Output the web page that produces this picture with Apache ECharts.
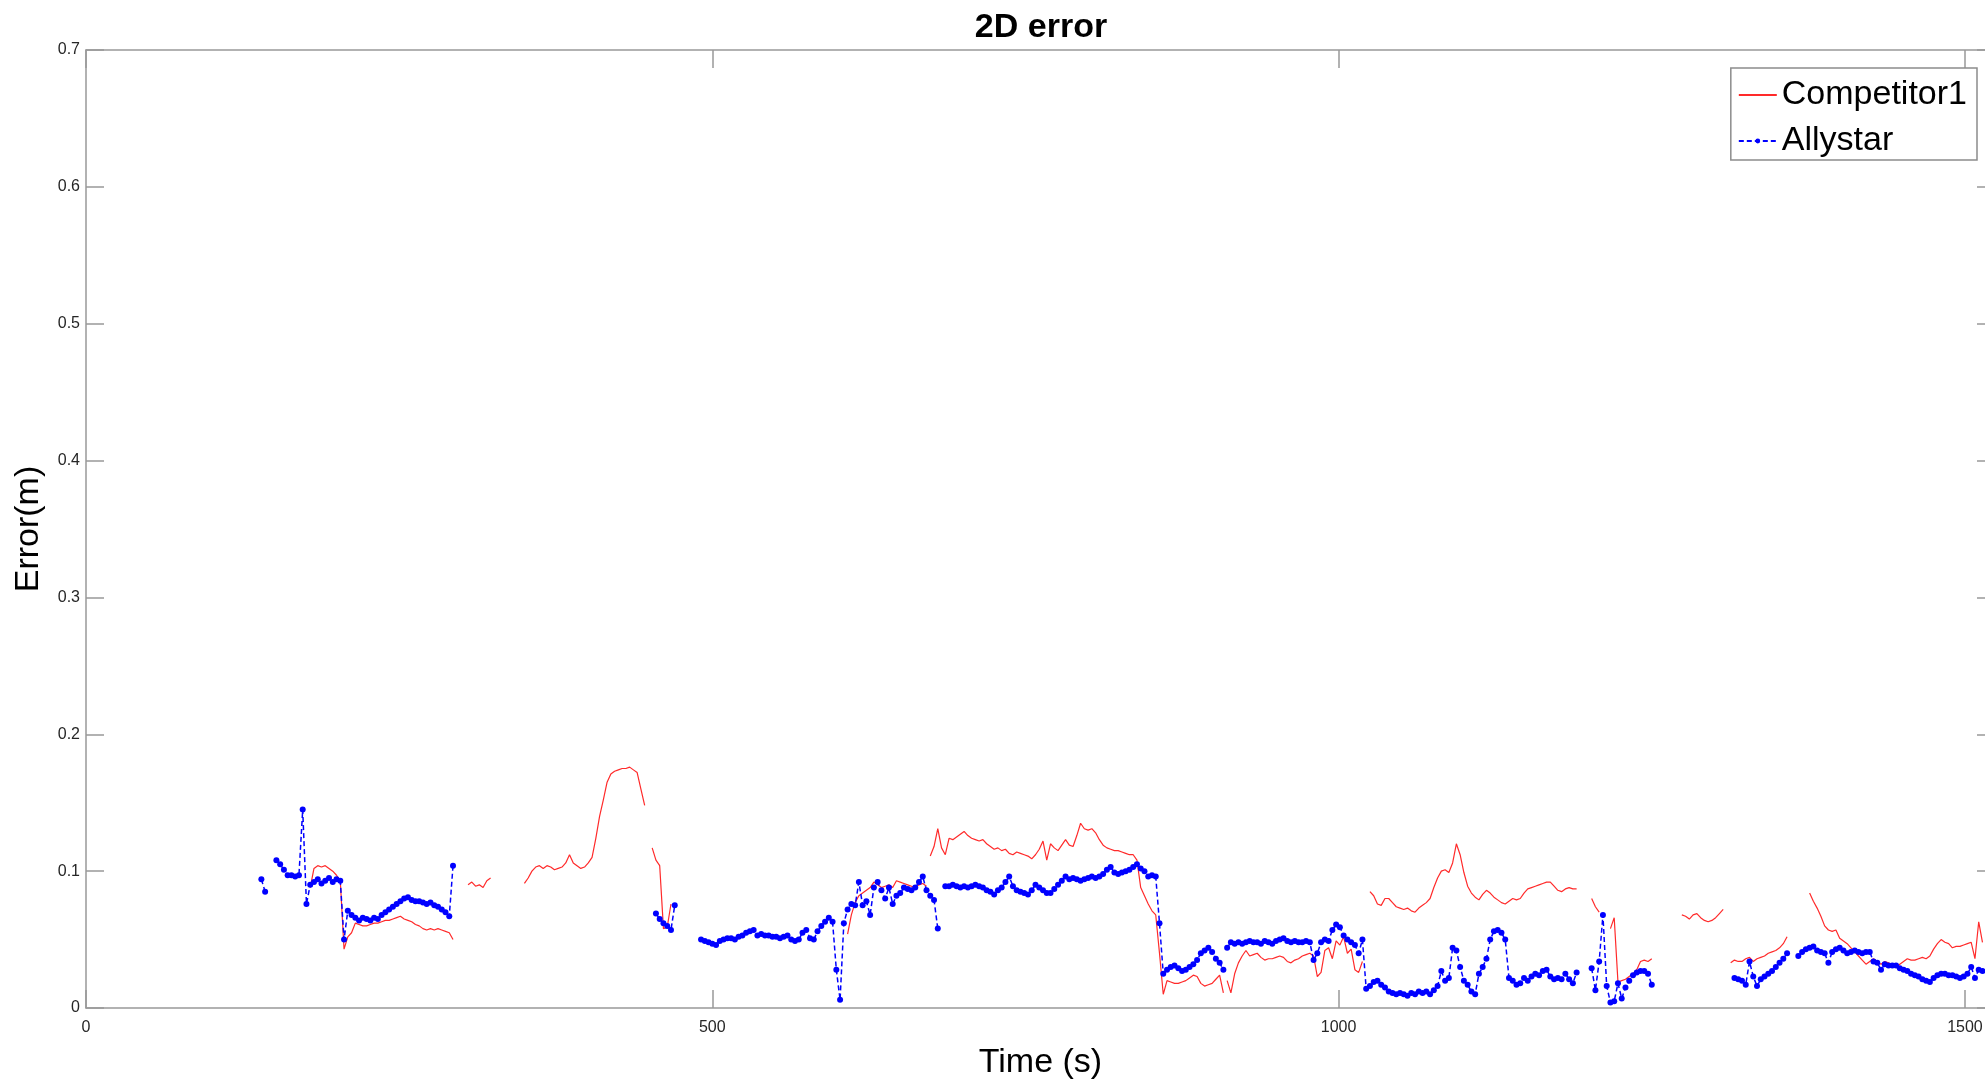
<!DOCTYPE html>
<html>
<head>
<meta charset="utf-8">
<script src="https://cdn.jsdelivr.net/npm/echarts@6/dist/echarts.min.js"></script>
<style>
html,body{margin:0;padding:0;background:#fff;}
#chart{width:1985px;height:1083px;}
</style>
</head>
<body>
<div id="chart"></div>
<script>
// ---- Data (errors in millimetres, sampled every 3 s inside each segment) ----
const sampleStep = 3;
const xTicks = [0, 500, 1000, 1500];
const yTicks = [0, 0.1, 0.2, 0.3, 0.4, 0.5, 0.6, 0.7];

// Competitor1 (red): start time of each continuous segment, and its values (mm)
const competitorStarts = [179, 305, 350, 452, 608, 674, 911, 1025, 1202, 1217, 1274, 1313, 1376];
const competitorSeg1 = [88,102,104,103,104,102,100,97,93,43,52,55,62,61,60,60,61,62,62,63,64,64,65,66,67,65,64,63,61,60,58,57,58,57,58,57,56,55,50];
const competitorSeg2 = [90,92,89,90,88,93,95];
const competitorSeg3 = [91,95,100,103,104,102,104,103,101,102,103,106,112,106,104,102,103,106,110,124,140,152,165,171,173,174,175,175,176,174,172,160,148];
const competitorSeg4 = [117,108,104,58,59,76];
const competitorSeg5 = [54,68,77,82,84,86,88,92,90,88,89,90,88,93,92,91,90,89,88,90,91,89];
const competitorSeg6 = [111,118,131,117,112,124,123,125,127,129,126,124,123,122,123,120,118,116,117,115,116,113,112,114,113,112,111,109,112,116,122,108,120,117,115,119,123,119,118,126,135,131,130,131,128,123,119,117,116,115,115,114,113,112,112,108,88,82,76,71,68,40,10,20,19,18,18,19,20,22,24,23,18,16,17,18,21,24,11];
const competitorSeg7 = [20,11,25,33,38,42,38,39,40,37,35,36,36,37,38,37,34,33,35,36,38,39,40,38,23,26,42,44,36,49,46,52,40,43,28,26,34];
const competitorSeg8 = [85,82,76,75,80,80,77,74,73,72,73,71,70,73,75,77,80,88,95,100,101,99,106,120,112,99,89,84,81,79,83,86,84,81,79,77,76,78,80,79,80,84,87,88,89,90,91,92,92,89,86,85,87,88,87,87];
const competitorSeg9 = [80,74,70];
const competitorSeg10 = [58,66,19,20,21,23,25,28,34,35,34,36];
const competitorSeg11 = [68,67,65,68,69,66,64,63,64,66,69,72];
const competitorSeg12 = [33,35,34,34,36,37,34,36,37,38,40,41,42,44,47,52];
const competitorSeg13 = [84,78,73,67,60,57,56,57,51,49,47,44,41,38,35,32,34,36,34,32,34,33,31,30,32,34,36,35,35,36,37,36,38,43,47,50,48,47,44,45,45,46,47,48,36,63,48];

// Allystar (blue)
const allystarStarts = [140, 152, 455, 491, 686, 911, 1202, 1316, 1367];
const allystarSeg1 = [94,85];
const allystarSeg2 = [108,105,101,97,97,96,97,145,76,90,92,94,91,93,95,92,94,93,50,71,68,66,64,66,65,64,66,65,68,70,72,74,76,78,80,81,79,78,78,77,76,77,75,74,72,70,67,104];
const allystarSeg3 = [69,65,62,60,57,75];
const allystarSeg4 = [50,49,48,47,46,49,50,51,51,50,52,53,55,56,57,53,54,53,53,52,52,51,52,53,50,49,50,55,57,51,50,56,60,63,66,63,28,6,62,72,76,75,92,75,78,68,88,92,86,80,88,76,82,84,88,87,86,88,92,96,86,82,79,58];
const allystarSeg5 = [89,89,90,89,88,89,88,89,90,89,88,86,85,83,86,88,92,96,89,86,85,84,83,86,90,88,86,84,84,87,90,93,96,94,95,94,93,94,95,96,95,96,98,101,103,99,98,99,100,101,103,105,102,100,96,97,96,62,25,28,30,31,29,27,28,30,32,35,40,42,44,41,36,33,28];
const allystarSeg6 = [44,48,47,48,47,48,49,48,48,47,49,48,47,49,50,51,49,48,49,48,48,49,48,35,40,48,50,49,57,61,59,53,50,48,46,40,50,14,16,19,20,17,15,12,11,10,11,10,9,11,10,12,11,12,10,13,16,27,20,22,44,42,30,20,17,12,10,25,30,36,50,56,57,55,50,22,20,17,18,22,20,23,25,24,27,28,23,21,22,21,25,21,18,26];
const allystarSeg7 = [29,13,34,68,16,4,5,18,7,15,20,24,26,27,27,25,17];
const allystarSeg8 = [22,21,20,17,34,23,16,21,23,25,27,30,33,36,40];
const allystarSeg9 = [38,41,43,44,45,42,41,40,33,41,43,44,42,40,41,42,41,40,41,41,34,33,28,32,31,31,31,29,28,27,25,24,23,21,20,19,22,24,25,25,24,24,23,22,23,25,30,22,28,27];

const competitorSegments = [competitorSeg1, competitorSeg2, competitorSeg3, competitorSeg4, competitorSeg5, competitorSeg6, competitorSeg7, competitorSeg8, competitorSeg9, competitorSeg10, competitorSeg11, competitorSeg12, competitorSeg13];
const allystarSegments = [allystarSeg1, allystarSeg2, allystarSeg3, allystarSeg4, allystarSeg5, allystarSeg6, allystarSeg7, allystarSeg8, allystarSeg9];

function buildPairs(starts, segments) {
  const out = [];
  segments.forEach(function (vals, k) {
    if (k > 0) out.push([starts[k] - 1, null]); // break between segments
    vals.forEach(function (mm, i) {
      out.push([starts[k] + i * sampleStep, mm / 1000]);
    });
  });
  return out;
}

const FONT = '"Liberation Sans", Arial, Helvetica, sans-serif';
const AXIS_COLOR = '#999999';
const LABEL_COLOR = '#262626';

const chart = echarts.init(document.getElementById('chart'), null, {renderer: 'canvas'});

const baseAxisLine = {show: true, onZero: false, lineStyle: {color: AXIS_COLOR, width: 1.5}};
const baseTick = {show: true, inside: true, length: 18, lineStyle: {color: AXIS_COLOR, width: 1.5}};

chart.setOption({
  animation: false,
  backgroundColor: '#ffffff',
  textStyle: {fontFamily: FONT},
  title: {
    text: '2D error',
    left: 1036, textAlign: 'center',
    top: 6,
    textStyle: {fontFamily: FONT, fontSize: 34, fontWeight: 'bold', color: '#000'}
  },
  legend: {
    orient: 'vertical',
    right: 8,
    top: 68,
    padding: [10, 10, 2, 7],
    itemGap: 12,
    itemWidth: 38,
    itemHeight: 6,
    borderColor: '#8c8c8c',
    borderWidth: 1.5,
    backgroundColor: '#ffffff',
    borderRadius: 0,
    textStyle: {fontFamily: FONT, fontSize: 34, color: '#000'},
    data: [
      {name: 'Competitor1', itemStyle: {color: 'rgba(0,0,0,0)', borderWidth: 0, opacity: 0}},
      {name: 'Allystar'}
    ]
  },
  grid: {
    left: 86, right: -10, top: 50, bottom: 75,
    containLabel: false,
    outerBoundsMode: 'none'
  },
  xAxis: [{
    type: 'value',
    min: 0, max: 1524, interval: 500,
    name: 'Time (s)',
    nameLocation: 'middle',
    nameGap: 38,
    nameTextStyle: {fontFamily: FONT, fontSize: 34, color: '#000'},
    axisLine: baseAxisLine,
    axisTick: baseTick,
    splitLine: {show: false},
    axisLabel: {
      fontFamily: FONT, fontSize: 16, color: LABEL_COLOR, margin: 12,
      formatter: function (v) { return xTicks.indexOf(v) >= 0 ? String(v) : ''; }
    }
  }, {
    type: 'value', position: 'top',
    min: 0, max: 1524, interval: 500,
    axisLine: baseAxisLine,
    axisTick: baseTick,
    axisLabel: {show: false},
    splitLine: {show: false}
  }],
  yAxis: [{
    type: 'value',
    min: 0, max: 0.7, interval: 0.1,
    name: 'Error(m)',
    nameLocation: 'middle',
    nameGap: 40,
    nameTextStyle: {fontFamily: FONT, fontSize: 34, color: '#000'},
    axisLine: baseAxisLine,
    axisTick: baseTick,
    splitLine: {show: false},
    axisLabel: {
      fontFamily: FONT, fontSize: 16, color: LABEL_COLOR, margin: 6,
      formatter: function (v) {
        const r = Math.round(v * 10) / 10;
        return yTicks.indexOf(r) >= 0 ? (r === 0 ? '0' : r.toFixed(1)) : '';
      }
    }
  }, {
    type: 'value', position: 'right',
    min: 0, max: 0.7, interval: 0.1,
    axisLine: baseAxisLine,
    axisTick: baseTick,
    axisLabel: {show: false},
    splitLine: {show: false}
  }],
  series: [{
    name: 'Competitor1',
    type: 'line',
    xAxisIndex: 0, yAxisIndex: 0,
    data: buildPairs(competitorStarts, competitorSegments),
    showSymbol: false,
    symbol: 'none',
    connectNulls: false,
    lineStyle: {color: '#ff2a2a', width: 1.2},
    itemStyle: {color: '#ff2a2a'},
    z: 2
  }, {
    name: 'Allystar',
    type: 'line',
    xAxisIndex: 0, yAxisIndex: 0,
    data: buildPairs(allystarStarts, allystarSegments),
    symbol: 'circle',
    symbolSize: 6,
    showSymbol: true,
    showAllSymbol: true,
    connectNulls: false,
    lineStyle: {color: '#0000ff', width: 1.5, type: [5, 3]},
    itemStyle: {color: '#0000ff', borderWidth: 0},
    z: 3
  }]
});
</script>
</body>
</html>
